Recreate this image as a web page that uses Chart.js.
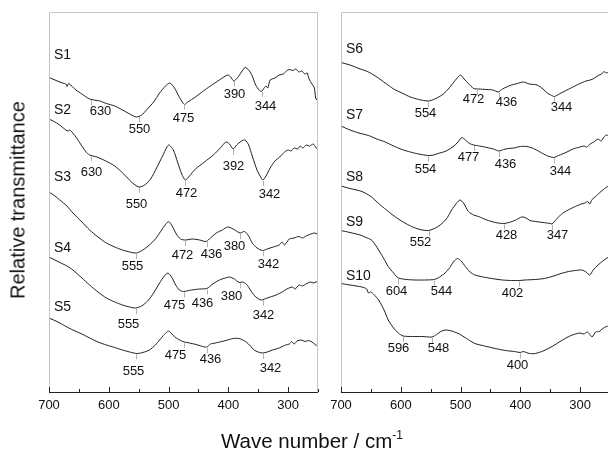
<!DOCTYPE html>
<html>
<head>
<meta charset="utf-8">
<script src="https://cdn.jsdelivr.net/npm/chart.js@4.4.1/dist/chart.umd.min.js"></script>
<style>
  body { margin: 0; background: #fff; overflow: hidden; width: 608px; height: 450px; position: relative; }
  canvas { position: absolute; top: 0; }
  #left { left: 0; }
  #right { left: 300px; }
  .title { position: absolute; font-family: "Liberation Sans", Arial, sans-serif; color: #111; white-space: nowrap; }
  #ytitle { font-size: 20px; left: 18px; top: 200px; transform: translate(-50%, -50%) rotate(-90deg); }
  #xtitle { font-size: 20.5px; left: 312px; top: 440px; transform: translate(-50%, -50%); }
  #xtitle sup { font-size: 12px; vertical-align: 9px; }
</style>
</head>
<body>
<canvas id="left" width="330" height="430"></canvas>
<canvas id="right" width="322" height="430"></canvas>
<div class="title" id="ytitle">Relative transmittance</div>
<div class="title" id="xtitle">Wave number / cm<sup>-1</sup></div>
<script>
// spectra: [wave number, offset transmittance]
const s1 = [[700,314.5],[690,312],[680,309.5],[672,308],[670,305.5],[667,308.5],[655,302],[645,298],[632,293],[615,291],[604,288.5],[590,286],[577,282],[565,278],[554,275],[545,277],[537,282],[525,290],[515,299],[505,306],[498,309],[490,304],[483,296],[476,289],[473,287.5],[468,290],[455,295],[443,300.5],[430,306],[415,312],[401,317],[396,315],[391,311],[385,314],[378,320],[372,324.5],[366,322],[360,316],[355,308],[350,303],[345,300.5],[340,304],[337,306],[334,304],[330,312],[322,314],[315,317],[308,318],[303,321],[298,322.5],[292,321.5],[287,323],[282,320],[277,321],[272,318],[268,319],[265,313],[260,308],[256,304],[254,294],[252,292]];
const s2 = [[700,273],[690,270],[680,266],[672,262],[668,261],[665,262],[655,255],[645,246],[638,240],[632,237],[620,235],[605,231],[590,226],[575,218],[562,210],[550,205],[540,207],[530,213],[520,224],[510,236],[500,247],[492,242],[485,230],[478,218],[472,212],[465,216],[455,223],[440,230],[425,237],[412,245],[404,250],[398,248],[392,243],[386,247],[378,251],[372,252],[366,247],[360,236],[352,222],[345,214],[342,212],[337,216],[330,224],[322,231],[314,235],[306,240],[300,242],[295,241],[290,244],[284,243],[280,246],[275,244],[270,247],[264,246],[258,248],[254,245],[251,243]];
const s3 = [[700,200],[690,196],[682,192],[670,186],[660,179],[645,170],[632,162],[618,155],[604,149],[590,145],[577,142],[565,140],[554,139],[543,142],[532,147],[522,153],[515,159],[507,166],[500,170.5],[494,166],[487,158],[480,153],[472,152],[460,153],[448,152],[437,150.5],[430,154],[420,159],[410,162],[401,165],[392,163],[384,160],[380,159],[373,160.5],[366,156],[360,149],[352,144],[343,141.5],[335,143],[325,145],[315,147],[310,150],[306,147],[298,153],[290,154],[282,155.5],[276,154],[270,156],[262,158],[256,159],[251,158]];
const s4 = [[700,135],[690,132],[680,129],[670,126],[660,122],[645,114],[632,107],[618,100],[604,94],[590,90],[577,87],[565,85],[555,84],[545,86],[535,91],[525,99],[515,109],[507,116],[501,119],[495,115],[488,107],[482,102],[475,100.5],[462,102],[448,103],[436,103.5],[426,108],[415,112],[405,114],[398,115],[390,113],[382,109.5],[376,110],[370,108],[362,101],[354,95],[345,92],[335,94],[320,97],[310,100],[302,103],[293,105],[288,103],[282,107],[276,106],[270,108],[263,110],[258,109],[252,110.5]];
const s5 = [[700,74],[685,70],[670,65],[660,62],[645,58],[632,54],[618,50],[604,47],[590,44.5],[577,42],[565,40],[553,38.5],[543,39.5],[532,42],[522,47],[515,52],[507,57.5],[500,61],[493,57],[487,54],[476,50.5],[465,49],[454,47.5],[440,45],[436,45],[430,48],[426,48.5],[418,49.5],[404,51.5],[392,53.5],[382,53.5],[371,50.5],[363,46],[357,42],[350,40],[343,39],[335,40],[326,42],[315,44],[308,46],[304,47],[298,48],[294,50.5],[290,48],[285,51],[278,52],[272,50.5],[266,51.5],[260,50],[254,47],[251,46.5]];
const s6 = [[700,329.5],[685,327],[670,323.5],[654,320],[640,315],[626,309],[612,303],[598,299],[584,295],[570,292.5],[554,291],[543,293],[531,297],[522,302],[515,307],[507,313],[500,317],[494,313],[487,308.5],[478,303.5],[470,303],[456,302.5],[446,302],[437,300],[430,303],[417,306.5],[405,308.5],[395,310],[385,308],[372,307],[362,303],[355,299],[349,297],[343,295.5],[335,298],[322,302],[312,305],[300,308.5],[290,311],[283,312],[277,313.5],[270,316.5],[264,318],[260,320.5],[256,319],[252,320]];
const s7 = [[700,266],[685,262],[670,259],[654,256.5],[640,253],[626,250],[612,246],[598,242.5],[584,240],[570,238],[554,236.5],[545,237],[535,239],[526,240.5],[517,243.5],[509,247],[503,251],[498,254.5],[492,252],[485,248.5],[478,247],[468,246],[456,244.5],[445,243],[436,241],[428,242.5],[420,243.5],[411,244],[400,245.5],[389,245.5],[378,243.5],[367,240],[356,236.5],[344,234.5],[336,236.5],[322,240],[312,243],[300,245],[294,246],[289,245],[282,248.5],[277,250],[270,253],[265,251],[260,255],[256,257],[252,256]];
const s8 = [[700,206],[685,203.5],[665,200.5],[650,195.5],[637,188.5],[624,182],[610,175.5],[596,170],[582,165.5],[568,162.5],[554,161.5],[542,164],[531,168.5],[522,174.5],[515,182],[507,188.5],[501,192],[495,189],[487,180.5],[478,177],[470,175.5],[456,172],[442,169.5],[428,168.5],[416,170],[406,172.5],[398,175],[392,174.5],[384,171.5],[375,170.5],[362,169.5],[350,168.5],[347,168],[340,172.5],[330,178.5],[320,182],[308,185.5],[298,188],[292,189],[287,190.5],[284,188],[280,192.5],[274,195.5],[268,199],[262,202],[257,204.5],[252,206]];
const s9 = [[700,161.5],[685,159.5],[668,157],[660,155],[654,153.5],[648,151.5],[637,142],[628,133],[621,125.5],[612,119],[604,114],[590,112.5],[576,112],[560,112],[544,112.5],[535,115],[526,119],[518,124.5],[512,130],[505,133.5],[499,131],[492,125.5],[484,120],[476,117],[462,115],[448,113.5],[430,112],[415,111.5],[402,111.5],[392,112],[375,112.5],[360,113.5],[347,115.5],[332,118.5],[319,120.5],[308,121.5],[297,122],[290,120],[284,117],[278,122],[270,127],[262,131],[255,134],[252,135]];
const s10 = [[700,108.5],[685,107],[665,105],[657,103],[654,99],[650,100],[645,97.5],[637,92],[628,82],[621,72],[612,64],[604,59],[596,56],[580,55.5],[565,55.5],[548,55],[540,57.5],[533,60.5],[526,62],[518,61.5],[510,60],[502,58],[490,53.5],[476,48.5],[460,46],[442,43.5],[425,41.5],[410,40.5],[400,39.5],[395,40.5],[385,38.5],[375,38.5],[362,41],[347,45.5],[332,51],[319,55.5],[308,58],[300,59],[294,58],[288,60],[283,57],[280,55],[274,60],[268,60.5],[262,63.5],[256,65.5],[252,66]];

// marked band positions
const peaks1 = [630, 550, 475, 390, 344];
const peaks2 = [630, 550, 472, 392, 342];
const peaks3 = [555, 472, 436, 380, 342];
const peaks4 = [555, 475, 436, 380, 342];
const peaks5 = [555, 475, 436, 342];
const peaks6 = [554, 472, 436, 344];
const peaks7 = [554, 477, 436, 344];
const peaks8 = [552, 428, 347];
const peaks9 = [604, 544, 402];
const peaks10 = [596, 548, 400];

const names = ["S1", "S2", "S3", "S4", "S5", "S6", "S7", "S8", "S9", "S10"];
const xTicks = [700, 600, 500, 400, 300];

// layout: where each band number sits relative to its marker [dx, dy] px
const labelShift = [
  [[9, 12], [0, 13], [-1, 15], [0, 14], [3, 16]],
  [[0, 17], [-3, 17], [1, 13], [0, 17], [6, 14]],
  [[-4, 14], [-3, 15], [4, 13], [-6, 13], [5, 14]],
  [[-8, 16], [-10, 14], [-5, 15], [-9, 14], [0, 16]],
  [[-3, 18], [-9, 14], [3, 12], [7, 16]],
  [[-3, 12], [-4, 11], [7, 11], [7, 11]],
  [[-3, 14], [-6, 12], [6, 13], [6, 14]],
  [[-9, 12], [2, 12], [5, 11]],
  [[-2, 13], [7, 12], [-7, 13]],
  [[-5, 12], [6, 11], [-3, 13]],
];
// how far each sample name sits above its curve start (px)
const nameLift = [22, 9, 15, 9, 11, 13, 11, 9, 8, 7];
const FONT = '"Liberation Sans", Arial, sans-serif';

const toXY = (arr) => arr.map((p) => ({ x: p[0], y: p[1] }));

// value of a spectrum at a given wave number (for placing the labels)
const valueAt = (pts, wn) => {
  for (let i = 0; i < pts.length - 1; i++) {
    const a = pts[i], b = pts[i + 1];
    if (wn <= a.x && wn >= b.x) {
      const t = (a.x - wn) / (a.x - b.x);
      return a.y + t * (b.y - a.y);
    }
  }
  return pts[pts.length - 1].y;
};

const decor = {
  id: "decor",
  afterDraw(chart) {
    const { ctx, chartArea: a, scales } = chart;
    const x = scales.x, y = scales.y;
    ctx.save();
    // light frame
    ctx.strokeStyle = "#c4c4c4";
    ctx.lineWidth = 1;
    ctx.beginPath();
    ctx.moveTo(a.left + 0.5, a.bottom);
    ctx.lineTo(a.left + 0.5, a.top + 0.5);
    ctx.lineTo(a.right - 0.5, a.top + 0.5);
    ctx.lineTo(a.right - 0.5, a.bottom);
    ctx.stroke();
    // bottom axis + inner ticks
    ctx.strokeStyle = "#222";
    ctx.beginPath();
    ctx.moveTo(a.left, a.bottom + 0.5);
    ctx.lineTo(a.right, a.bottom + 0.5);
    for (let v = 700; v >= x.min; v -= 50) {
      const px = Math.round(x.getPixelForValue(v)) + 0.5;
      const len = xTicks.includes(v) ? 5 : 3;
      ctx.moveTo(px, a.bottom);
      ctx.lineTo(px, a.bottom - len);
    }
    ctx.stroke();

    ctx.fillStyle = "#111";
    chart.data.datasets.forEach((ds) => {
      // band markers
      ds.peaks.forEach((wn, j) => {
        const px = Math.round(x.getPixelForValue(wn)) + 0.5;
        const py = y.getPixelForValue(valueAt(ds.data, wn));
        const sh = ds.shift[j];
        ctx.strokeStyle = "#b0b0b0";
        ctx.beginPath();
        ctx.moveTo(px, py + 1);
        ctx.lineTo(px, py + 6);
        ctx.stroke();
        ctx.font = "13px " + FONT;
        ctx.textAlign = "center";
        ctx.textBaseline = "middle";
        ctx.fillText(String(wn), px + sh[0], py + sh[1]);
      });
      // sample name
      ctx.font = "14px " + FONT;
      ctx.textAlign = "left";
      ctx.textBaseline = "middle";
      const ny = y.getPixelForValue(ds.data[0].y) - ds.lift;
      ctx.fillText(ds.label, a.left + 5, ny);
    });
    ctx.restore();
  },
};

const makeChart = (el, series, peakSets, nameIdx, padLeft) => {
  const datasets = series.map((s, k) => ({
    label: names[nameIdx + k],
    data: toXY(s),
    peaks: peakSets[k],
    shift: labelShift[nameIdx + k],
    lift: nameLift[nameIdx + k],
    borderColor: "#1e1e1e",
    borderWidth: 1,
    pointRadius: 0,
    tension: 0.25,
    fill: false,
  }));
  return new Chart(el, {
    type: "line",
    data: { datasets },
    options: {
      responsive: false,
      animation: false,
      layout: { padding: { left: padLeft, right: 12, top: 12, bottom: 8 } },
      plugins: { legend: { display: false }, tooltip: { enabled: false } },
      scales: {
        x: {
          type: "linear",
          reverse: true,
          min: 250,
          max: 700,
          grid: { display: false, drawTicks: false },
          border: { display: false },
          ticks: {
            stepSize: 50,
            includeBounds: false,
            autoSkip: false,
            maxRotation: 0,
            padding: 6,
            color: "#111",
            font: { size: 13, family: FONT },
            callback: (v) => (xTicks.includes(v) ? String(v) : ""),
          },
          afterFit: (scale) => {
            scale.height = 30;
          },
        },
        y: { display: false, min: 0, max: 380 },
      },
    },
    plugins: [decor],
  });
};

makeChart(document.getElementById("left"), [s1, s2, s3, s4, s5],
  [peaks1, peaks2, peaks3, peaks4, peaks5], 0, 49);
makeChart(document.getElementById("right"), [s6, s7, s8, s9, s10],
  [peaks6, peaks7, peaks8, peaks9, peaks10], 5, 41);
</script>
</body>
</html>
